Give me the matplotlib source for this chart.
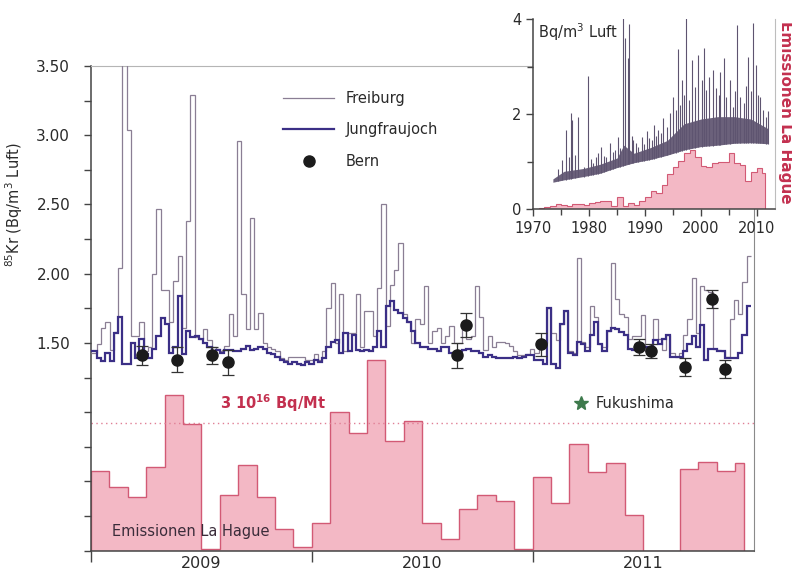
import matplotlib.pyplot as plt
import numpy as np
from matplotlib.lines import Line2D

plt.rcParams['font.family'] = 'DejaVu Sans'
plt.rcParams['mathtext.default'] = 'regular'

# weekly 85Kr activity (Bq/m3 Luft), first week of 2009 onwards
freiburg = [
    1.43, 1.49, 1.61, 1.65, 1.45, 1.58, 2.04, 3.90, 3.04, 1.55, 1.55, 1.65, 1.44,
    1.47, 2.00, 2.47, 1.88, 1.88, 1.65, 1.95, 2.13, 1.61, 2.38, 3.29, 1.54, 1.53,
    1.60, 1.52, 1.47, 1.46, 1.44, 1.48, 1.71, 1.55, 2.96, 1.85, 1.60, 2.40, 1.60,
    1.72, 1.50, 1.47, 1.46, 1.44, 1.39, 1.38, 1.40, 1.40, 1.40, 1.40, 1.38, 1.38,
    # 2010
    1.42, 1.38, 1.44, 1.75, 1.93, 1.50, 1.85, 1.44, 1.57, 1.57, 1.85, 1.47, 1.73,
    1.73, 1.55, 1.90, 2.50, 1.62, 1.92, 2.03, 2.22, 1.71, 1.65, 1.50, 1.67, 1.64,
    1.91, 1.50, 1.59, 1.61, 1.50, 1.55, 1.62, 1.50, 1.50, 1.64, 1.53, 1.55, 1.91,
    1.69, 1.45, 1.55, 1.47, 1.51, 1.51, 1.50, 1.48, 1.44, 1.41, 1.41, 1.42, 1.46,
    # 2011
    1.43, 1.50, 1.50, 1.75, 1.57, 1.52, 1.64, 1.73, 1.44, 1.43, 2.11, 1.51, 1.47,
    1.77, 1.69, 1.49, 1.47, 1.59, 2.08, 1.82, 1.71, 1.69, 1.53, 1.55, 1.55, 1.70,
    1.44, 1.46, 1.67, 1.53, 1.45, 1.56, 1.43, 1.40, 1.43, 1.56, 1.67, 1.97, 1.57,
    1.91, 1.88, 1.87, 1.46, 1.45, 1.44, 1.40, 1.67, 1.81, 1.71, 1.94, 2.13,
]
jungfraujoch = [
    1.44, 1.39, 1.37, 1.43, 1.37, 1.57, 1.69, 1.35, 1.35, 1.50, 1.39, 1.53, 1.42,
    1.39, 1.46, 1.55, 1.68, 1.64, 1.43, 1.47, 1.84, 1.42, 1.59, 1.54, 1.55, 1.53,
    1.50, 1.47, 1.43, 1.45, 1.43, 1.45, 1.45, 1.44, 1.44, 1.46, 1.48, 1.45, 1.46,
    1.47, 1.46, 1.43, 1.42, 1.40, 1.38, 1.36, 1.35, 1.36, 1.35, 1.34, 1.36, 1.35,
    # 2010
    1.38, 1.36, 1.39, 1.47, 1.51, 1.52, 1.43, 1.57, 1.44, 1.56, 1.45, 1.44, 1.45,
    1.44, 1.47, 1.59, 1.47, 1.77, 1.80, 1.74, 1.72, 1.68, 1.65, 1.59, 1.50, 1.47,
    1.47, 1.46, 1.46, 1.44, 1.47, 1.47, 1.43, 1.43, 1.44, 1.45, 1.46, 1.44, 1.44,
    1.43, 1.40, 1.41, 1.40, 1.39, 1.39, 1.39, 1.39, 1.40, 1.39, 1.40, 1.41, 1.41,
    # 2011
    1.38, 1.38, 1.35, 1.75, 1.35, 1.32, 1.64, 1.73, 1.43, 1.41, 1.51, 1.49, 1.44,
    1.56, 1.65, 1.49, 1.44, 1.59, 1.61, 1.60, 1.58, 1.56, 1.46, 1.45, 1.49, 1.47,
    1.47, 1.47, 1.52, 1.49, 1.53, 1.56, 1.40, 1.40, 1.40, 1.44, 1.49, 1.55, 1.47,
    1.63, 1.38, 1.46, 1.46, 1.44, 1.44, 1.39, 1.39, 1.39, 1.43, 1.56, 1.77,
]

bern_dates = [2009.232, 2009.388, 2009.548, 2009.619, 2010.659, 2010.700,
              2011.038, 2011.480, 2011.534, 2011.688, 2011.812, 2011.869]
bern_vals = [1.41, 1.38, 1.41, 1.36, 1.41, 1.63, 1.49, 1.47, 1.44, 1.33, 1.82, 1.31]
bern_err = [0.07, 0.09, 0.06, 0.09, 0.09, 0.085, 0.085, 0.06, 0.05, 0.065, 0.065, 0.065]

# monthly emissions La Hague (10^16 Bq per month)
emis_month = [1.88, 1.49, 1.26, 1.96, 3.65, 2.97, 0.05, 1.32, 2.01, 1.27, 0.52, 0.08,
              0.64, 3.25, 2.77, 4.47, 2.58, 3.05, 0.66, 0.28, 0.97, 1.30, 1.17, 0.05,
              1.72, 1.13, 2.50, 1.84, 2.05, 0.84, 0.00, 0.00, 1.91, 2.09, 1.88, 2.05]
emis_ref = 3.0  # 3 10^16 Bq/Mt

year_labels = ['2009', '2010', '2011']

# inset: long record Freiburg + annual emissions
env_years = [1973.5, 1975.5, 1979, 1982, 1985, 1986.2, 1988, 1991, 1994, 1997,
             2000, 2003, 2006, 2009, 2012]
env_low = [0.57, 0.62, 0.69, 0.76, 0.88, 0.92, 0.98, 1.05, 1.14, 1.25,
           1.32, 1.35, 1.39, 1.40, 1.38]
env_high = [0.64, 0.80, 0.86, 0.95, 1.08, 1.35, 1.18, 1.30, 1.45, 1.80,
            1.90, 1.95, 1.95, 1.90, 1.70]
spike_years = [1974.4, 1975.1, 1975.85, 1976.3, 1976.7, 1977.0, 1977.5, 1978.05,
               1979.0, 1979.85, 1980.3, 1980.7, 1981.2, 1981.6, 1982.2, 1982.6,
               1983.0, 1983.7, 1984.2, 1984.6, 1985.2, 1985.6, 1986.0, 1986.4,
               1987.0, 1987.2, 1987.6, 1987.9, 1988.4, 1988.8, 1989.4, 1989.9,
               1990.3, 1990.8, 1991.2, 1991.6, 1992.0, 1992.4, 1992.8, 1993.2,
               1993.9, 1994.5, 1995.1, 1995.5, 1995.85, 1996.2, 1996.6, 1997.0,
               1997.3, 1997.8, 1998.4, 1999.0, 1999.55, 2000.15, 2000.55, 2001.0,
               2001.5, 2002.2, 2002.8, 2003.2, 2003.5, 2004.1, 2004.6, 2005.2,
               2005.8, 2006.2, 2006.5, 2007.1, 2007.7, 2008.1, 2008.5, 2009.0,
               2009.4, 2009.9, 2010.3, 2010.6, 2011.2, 2011.6, 2012.0]
spike_tops = [0.85, 1.04, 1.67, 1.10, 2.02, 1.88, 1.15, 1.95,
              0.90, 2.81, 1.05, 0.97, 1.10, 1.18, 1.32, 1.12,
              1.11, 1.39, 1.20, 1.25, 1.53, 1.30, 4.10, 3.60,
              3.18, 3.90, 1.55, 1.46, 1.40, 1.32, 1.53, 1.38,
              1.64, 1.50, 1.46, 1.78, 1.55, 1.67, 1.60, 1.92,
              1.74, 2.02, 2.37, 2.10, 3.37, 2.20, 2.72, 2.40,
              4.10, 2.30, 3.14, 2.58, 3.25, 2.72, 3.39, 2.51,
              2.79, 2.93, 2.55, 2.40, 2.90, 3.18, 2.37, 2.72,
              2.16, 2.50, 3.88, 2.37, 2.23, 2.60, 3.21, 2.50,
              3.93, 3.04, 2.40, 2.37, 2.09, 1.95, 2.06]
hague_years = list(range(1970, 2012))
hague_annual = [0.00, 0.02, 0.04, 0.06, 0.11, 0.10, 0.06, 0.11, 0.11, 0.10,
                0.13, 0.16, 0.18, 0.18, 0.07, 0.25, 0.06, 0.13, 0.10, 0.18,
                0.25, 0.39, 0.35, 0.51, 0.74, 0.90, 1.02, 1.18, 1.25, 1.11,
                0.92, 0.90, 0.97, 1.00, 1.00, 1.19, 0.97, 0.93, 0.60, 0.79,
                0.88, 0.77]

c_fr = '#8a7e94'
c_jj = '#3b2f86'
c_red = '#c3304f'
c_fill = '#f3b8c5'
c_edge = '#d25a75'
c_txt = '#2a2a2a'
c_band = '#5e5470'

fig = plt.figure(figsize=(7.92, 5.79), dpi=100)
ax = fig.add_axes([0.1149, 0.0489, 0.8365, 0.8371])
ax.set_xlim(2009, 2012)
ax.set_ylim(0, 3.5)

# emissions, scaled so that the 3 10^16 Bq/Mt line sits at 0.922
scale = 0.922 / emis_ref
m_edges = 2009 + np.arange(len(emis_month) + 1) / 12.0
m_edges[-1] = m_edges[-2] + 0.5 / 12.0
ax.stairs(np.array(emis_month) * scale, m_edges, baseline=0, fill=True,
          facecolor=c_fill, edgecolor=c_edge, linewidth=1.0, zorder=1)
ax.axhline(emis_ref * scale, color='#e07f95', ls=(0, (1, 2.5)), lw=1.0, zorder=1)

w_edges = 2009 + (np.arange(len(freiburg) + 1) + 0.4) / 52.0
w_edges[0] = 2009.0
ax.stairs(freiburg, w_edges, baseline=None, color=c_fr, lw=0.9, zorder=3)
ax.stairs(jungfraujoch, w_edges, baseline=None, color=c_jj, lw=1.6, zorder=4)

ax.errorbar(bern_dates, bern_vals, yerr=bern_err, fmt='o', color='#1b1b1b', ms=8,
            ecolor='#333333', elinewidth=0.9, capsize=4, capthick=0.9, zorder=6)

# axes styling
for side in ['left', 'bottom']:
    ax.spines[side].set_color('#444444')
    ax.spines[side].set_linewidth(1.1)
ax.spines['top'].set_color('#b5b5b5')
ax.spines['right'].set_color('#8a8a8a')

ax.set_xticks([2009, 2010, 2011])
ax.set_xticklabels([])
ax.set_xticks([2009.5, 2010.5, 2011.5], minor=True)
ax.set_xticklabels(year_labels, minor=True)
ax.tick_params(axis='x', which='major', length=8, width=1, color='#444444')
ax.tick_params(axis='x', which='minor', length=0, pad=4, labelsize=11.5,
               labelcolor=c_txt)

yt = np.arange(0, 3.51, 0.25)
ax.set_yticks(yt)
ax.set_yticklabels(['%.2f' % v if (v >= 1.5 and (v * 2) % 1 == 0) else '' for v in yt])
ax.tick_params(axis='y', length=5, width=1, color='#444444', pad=10,
               labelsize=11, labelcolor=c_txt)

ax.set_ylabel(r'$^{85}$Kr (Bq/m$^3$ Luft)', fontsize=10.5, color=c_txt)
ax.yaxis.set_label_coords(-0.100, 0.713)

handles = [Line2D([], [], color=c_fr, lw=0.9),
           Line2D([], [], color=c_jj, lw=1.6),
           Line2D([], [], color='#1b1b1b', marker='o', ls='', ms=8)]
leg = ax.legend(handles, ['Freiburg', 'Jungfraujoch', 'Bern'], loc='upper left',
                bbox_to_anchor=(283 / 792, 1 - 91 / 579), bbox_transform=fig.transFigure,
                frameon=False, fontsize=10.5, handlelength=3.5, handletextpad=0.8,
                labelspacing=1.12, borderpad=0, borderaxespad=0)
for t in leg.get_texts():
    t.set_color(c_txt)

ax.text(2009.584, 1.066, r'3 10$^{\mathbf{16}}$ Bq/Mt', color=c_red, fontweight='bold',
        fontsize=10.5, va='center')
ax.plot([2011.217], [1.066], marker='*', color='#3d7a4c', ms=10, ls='')
ax.text(2011.285, 1.066, 'Fukushima', va='center', fontsize=10.5, color=c_txt)
ax.text(2009.452, 0.135, 'Emissionen La Hague', ha='center', va='center',
        fontsize=10.5, color='#3a2c3a')

# inset
axin = fig.add_axes([0.6734, 0.6385, 0.3052, 0.3282])
axin.set_xlim(1970, 2013.3)
axin.set_ylim(0, 4)
y_edges = np.append(hague_years, hague_years[-1] + 0.5)
axin.stairs(hague_annual, y_edges, baseline=0, fill=True, facecolor=c_fill,
            edgecolor=c_edge, linewidth=0.8, zorder=1)
axin.fill_between(env_years, env_low, env_high, color=c_band, alpha=0.92, lw=0, zorder=2)
axin.vlines(spike_years, np.interp(spike_years, env_years, env_low), spike_tops,
            color=c_band, lw=0.8, zorder=2)
axin.set_xticks([1970, 1980, 1990, 2000, 2010])
axin.set_xticks([1975, 1985, 1995, 2005], minor=True)
axin.set_yticks([0, 2, 4])
axin.set_yticks([1, 3], minor=True)
axin.tick_params(which='both', length=5, width=1, color='#444444', labelsize=10.5,
                 labelcolor=c_txt)
axin.tick_params(which='minor', length=4)
for side in ['left', 'bottom']:
    axin.spines[side].set_color('#444444')
    axin.spines[side].set_linewidth(1.1)
axin.spines['top'].set_visible(False)
axin.spines['right'].set_color('#bdbdbd')
axin.text(0.02, 0.93, r'Bq/m$^3$ Luft', transform=axin.transAxes, va='center',
          fontsize=10.5, color=c_txt)

fig.text(785 / 792, 1 - 112 / 579, 'Emissionen La Hague', rotation=270, color=c_red,
         fontweight='bold', fontsize=11, ha='center', va='center')

fig.savefig('out.png', dpi=100)
